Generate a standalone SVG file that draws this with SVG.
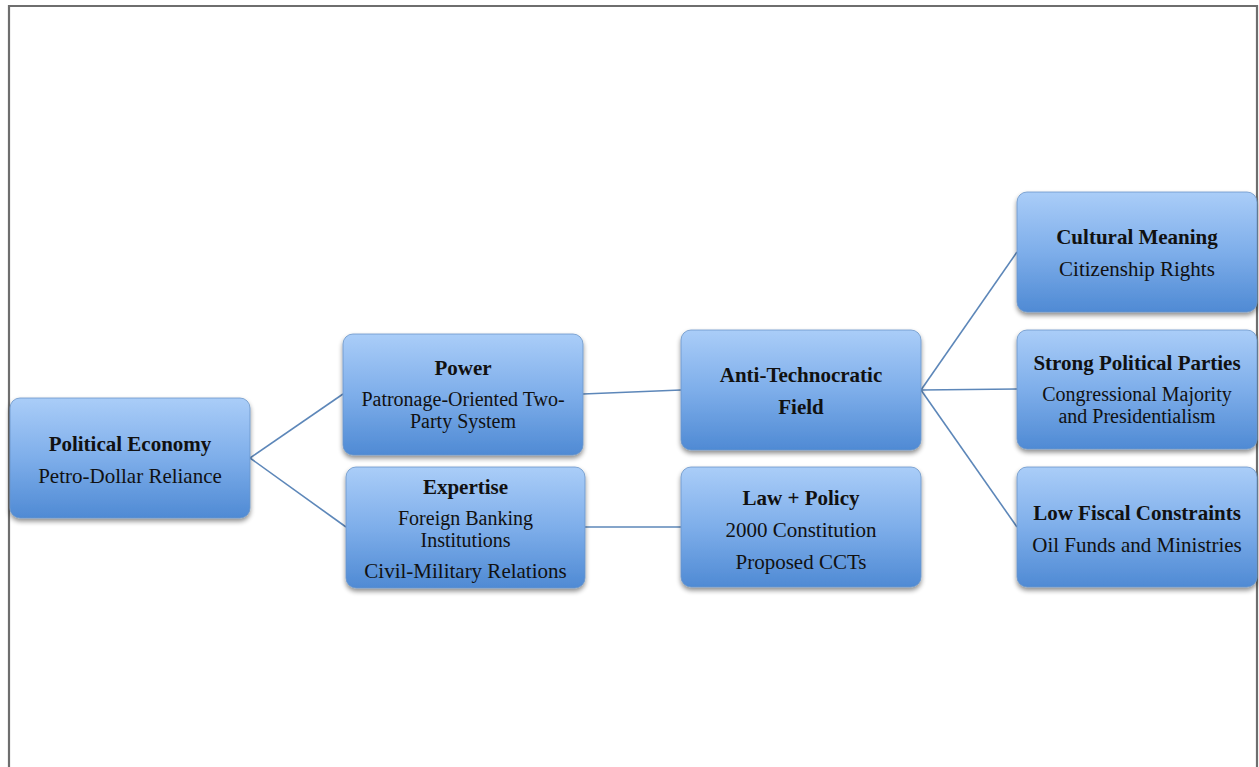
<svg xmlns="http://www.w3.org/2000/svg" width="1259" height="767" viewBox="0 0 1259 767">
  <defs>
    <linearGradient id="boxFill" x1="0" y1="0" x2="0" y2="1">
      <stop offset="0" stop-color="#aacdf8"/>
      <stop offset="0.5" stop-color="#7eaeea"/>
      <stop offset="1" stop-color="#4f8ad4"/>
    </linearGradient>
    <filter id="shadow" x="-10%" y="-10%" width="120%" height="130%">
      <feGaussianBlur in="SourceAlpha" stdDeviation="2.5"/>
      <feOffset dx="0" dy="3" result="b"/>
      <feComponentTransfer><feFuncA type="linear" slope="0.45"/></feComponentTransfer>
      <feMerge><feMergeNode/><feMergeNode in="SourceGraphic"/></feMerge>
    </filter>
  </defs>
  <style>
    .box { fill: url(#boxFill); stroke: #6b95c9; stroke-width: 0.8; filter: url(#shadow); }
    .t { font-family: "Liberation Serif", "Times New Roman", serif; font-size: 21px; fill: #111; text-anchor: middle; }
    .w { font-size: 20px; }
    .b { font-weight: bold; }
    .link { stroke: #5d87b9; stroke-width: 1.6; fill: none; }
  </style>
  <rect width="1259" height="767" fill="#ffffff"/>
  <!-- page frame -->
  <path d="M9 767 V6 H1257 V767" fill="none" stroke="#6e6e6e" stroke-width="2.2"/>

  <g id="connectors">
    <line class="link" x1="250" y1="458" x2="343" y2="394"/>
    <line class="link" x1="250" y1="458" x2="346" y2="527"/>
    <line class="link" x1="583" y1="394" x2="681" y2="390"/>
    <line class="link" x1="585" y1="527" x2="681" y2="527"/>
    <line class="link" x1="921" y1="390" x2="1017" y2="252"/>
    <line class="link" x1="921" y1="390" x2="1017" y2="389"/>
    <line class="link" x1="921" y1="390" x2="1017" y2="527"/>
  </g>

  <g id="political-economy">
    <rect class="box" x="10" y="398" width="240" height="120" rx="10"/>
    <text class="t b" x="130" y="451">Political Economy</text>
    <text class="t" x="130" y="483">Petro-Dollar Reliance</text>
  </g>

  <g id="power">
    <rect class="box" x="343" y="334" width="240" height="121" rx="10"/>
    <text class="t b" x="463" y="375">Power</text>
    <text class="t w" x="463" y="406">Patronage-Oriented Two-</text>
    <text class="t w" x="463" y="428">Party System</text>
  </g>

  <g id="expertise">
    <rect class="box" x="346" y="467" width="239" height="121" rx="10"/>
    <text class="t b" x="465.5" y="494">Expertise</text>
    <text class="t w" x="465.5" y="525">Foreign Banking</text>
    <text class="t w" x="465.5" y="547">Institutions</text>
    <text class="t" x="465.5" y="578">Civil-Military Relations</text>
  </g>

  <g id="anti-technocratic-field">
    <rect class="box" x="681" y="330" width="240" height="120" rx="10"/>
    <text class="t b" x="801" y="382">Anti-Technocratic</text>
    <text class="t b" x="801" y="414">Field</text>
  </g>

  <g id="law-policy">
    <rect class="box" x="681" y="467" width="240" height="120" rx="10"/>
    <text class="t b" x="801" y="505">Law + Policy</text>
    <text class="t" x="801" y="537">2000 Constitution</text>
    <text class="t" x="801" y="569">Proposed CCTs</text>
  </g>

  <g id="cultural-meaning">
    <rect class="box" x="1017" y="192" width="240" height="120" rx="10"/>
    <text class="t b" x="1137" y="244">Cultural Meaning</text>
    <text class="t" x="1137" y="276">Citizenship Rights</text>
  </g>

  <g id="strong-political-parties">
    <rect class="box" x="1017" y="330" width="240" height="119" rx="10"/>
    <text class="t b" x="1137" y="370">Strong Political Parties</text>
    <text class="t w" x="1137" y="401">Congressional Majority</text>
    <text class="t w" x="1137" y="423">and Presidentialism</text>
  </g>

  <g id="low-fiscal-constraints">
    <rect class="box" x="1017" y="467" width="240" height="120" rx="10"/>
    <text class="t b" x="1137" y="520">Low Fiscal Constraints</text>
    <text class="t" x="1137" y="552">Oil Funds and Ministries</text>
  </g>
</svg>
